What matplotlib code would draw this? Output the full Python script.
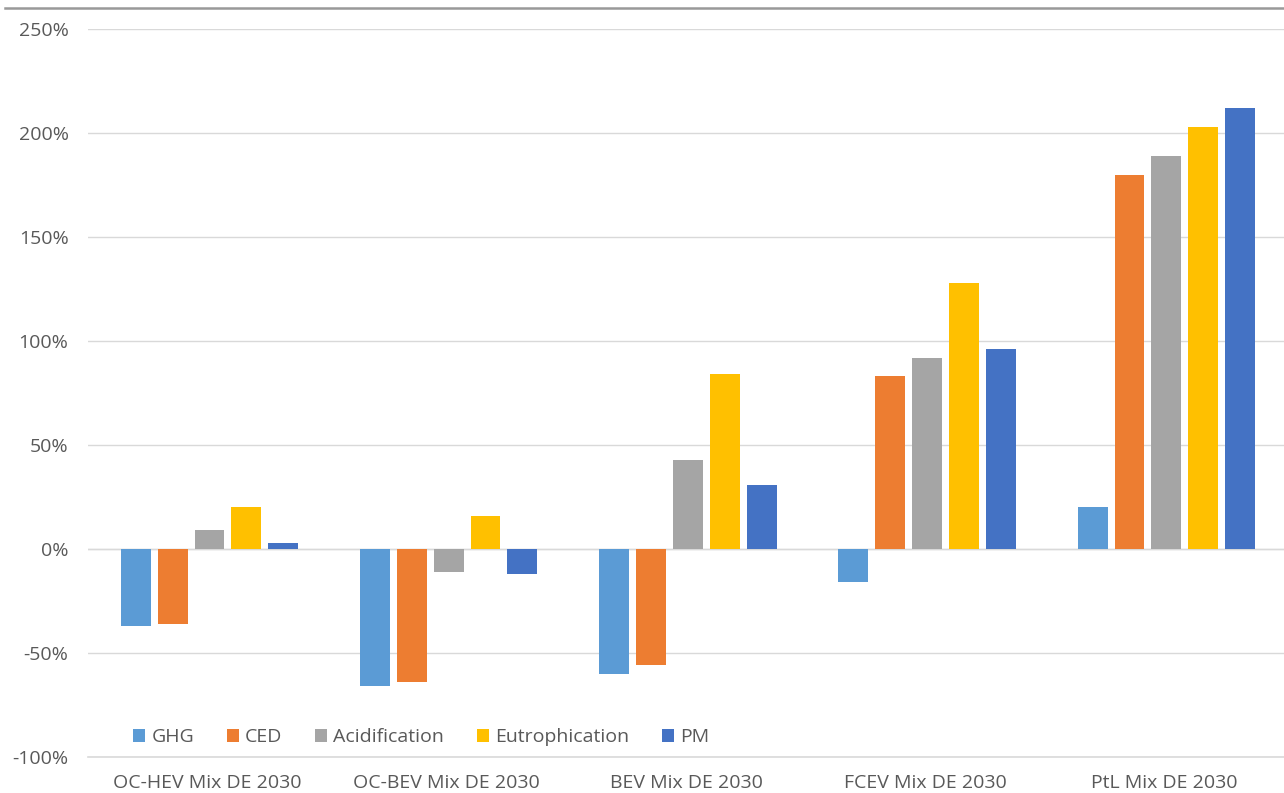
import numpy as np
import matplotlib.pyplot as plt
from matplotlib.lines import Line2D
from matplotlib.ticker import FuncFormatter

plt.rcParams['font.family'] = ['Open Sans', 'DejaVu Sans']

categorias = ["OC-HEV Mix DE 2030", "OC-BEV Mix DE 2030", "BEV Mix DE 2030",
              "FCEV Mix DE 2030", "PtL Mix DE 2030"]
series = ["GHG", "CED", "Acidification", "Eutrophication", "PM"]
ghg = [-37, -66, -60, -16, 20]
ced = [-36, -64, -56, 83, 180]
acid = [9, -11, 43, 92, 189]
eutro = [20, 16, 84, 128, 203]
pm = [3, -12, 31, 96, 212]
colores = ["#5B9BD5", "#ED7D31", "#A5A5A5", "#FFC000", "#4472C4"]

valores = [ghg, ced, acid, eutro, pm]
texto = "#595959"

fig = plt.figure(figsize=(12.84, 7.93), dpi=100)
ax = fig.add_axes([0.0685, 0.0454, 0.9315, 0.918])

x = np.arange(len(categorias))
ancho = 0.125
paso = 0.154
for i, (nombre, vals) in enumerate(zip(series, valores)):
    ax.bar(x + (i - 2) * paso + 0.008, vals, ancho, color=colores[i], label=nombre, zorder=3)

ax.set_xlim(-0.5, len(categorias) - 0.5)
ax.set_ylim(-100, 250)
ax.set_yticks(np.arange(-100, 251, 50))
ax.yaxis.set_major_formatter(FuncFormatter(lambda v, p: f"{int(v)}%"))
ax.set_xticks(x)
ax.set_xticklabels(categorias)
ax.tick_params(axis='both', length=0, labelsize=14, colors=texto)
ax.tick_params(axis='x', pad=12)
ax.tick_params(axis='y', pad=14)

ax.grid(axis='y', color="#D9D9D9", linewidth=1, zorder=0)
ax.axhline(0, color="#D9D9D9", linewidth=1, zorder=1)
for s in ['top', 'right', 'left']:
    ax.spines[s].set_visible(False)
ax.spines['bottom'].set_color("#D9D9D9")
ax.spines['bottom'].set_linewidth(1.2)

leg = ax.legend(loc='lower left', bbox_to_anchor=(0.038, 0.015), ncol=5, frameon=False,
                fontsize=14, handlelength=0.62, handleheight=0.62, handletextpad=0.3,
                columnspacing=1.7, labelcolor=texto, borderpad=0, borderaxespad=0)

fig.add_artist(Line2D([5 / 1284, 1.0], [1 - 8 / 793, 1 - 8 / 793], color="#999999",
                      linewidth=1.8, transform=fig.transFigure))

fig.savefig("out.png", dpi=100)
